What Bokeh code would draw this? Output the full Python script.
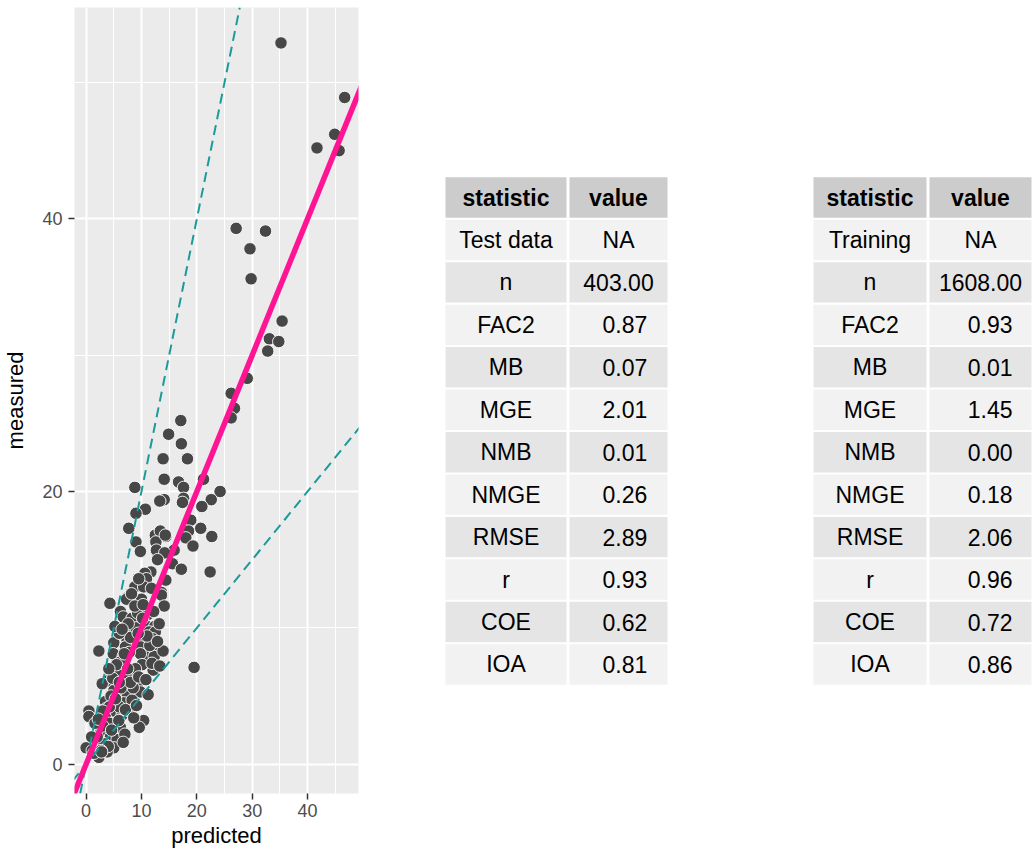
from bokeh.plotting import figure
from bokeh.layouts import row
from bokeh.models import Range1d, FixedTicker, Slope, ColumnDataSource
from bokeh.embed import file_html
from bokeh.resources import INLINE
from bokeh.core.properties import value

# ---------------- data ----------------
predicted = [35.2, 46.7, 44.9, 41.7, 45.7, 27.1, 32.4, 29.6, 29.8, 35.4,
             33.1, 34.8, 32.8, 29.1, 26.2, 26.8, 26.2, 17.1, 14.9, 17.2,
             13.9, 18.3, 14.1, 16.7, 21.2, 17.6, 8.8, 24.2, 14.1, 13.3,
             17.6, 17.4, 22.6, 10.7, 9.0, 20.9, 18.9, 7.7, 20.7, 18.5,
             12.5, 13.4, 14.4, 18.0, 22.7, 9.0, 12.6, 14.3, 19.3, 12.7,
             9.8, 15.9, 14.2, 12.9, 15.6, 17.2, 22.4, 11.7, 10.6, 10.9,
             14.4, 8.8, 10.4, 13.6, 13.6, 7.4, 4.3, 7.3, 14.1, 6.2,
             6.7, 8.3, 10.7, 12.4, 8.3, 11.4, 12.5, 7.4, 10.1, 12.0,
             5.0, 7.1, 9.8, 12.6, 2.3, 4.9, 10.5, 6.7, 9.8, 12.3,
             13.9, 19.5, 12.1, 10.1, 6.2, 8.6, 3.8, 2.9, 6.8, 9.2,
             5.0, 7.4, 9.8, 3.5, 6.8, 8.3, 0.5, 0.5, 5.0, 6.5,
             3.5, 10.4, 9.6, 6.2, 2.6, 4.4, 5.6, 3.2, 5.0, 0.0,
             1.1, 2.3, 1.4, 3.8, 8.0, 9.0, 7.8, 8.9, 7.2, 5.8,
             4.5, 6.0, 7.8, 4.2, 3.0, 4.8, 5.5, 7.6, 9.3, 10.0,
             11.2, 11.5, 6.0, 8.2, 9.5, 11.8, 2.0, 1.6, 3.7, 5.9,
             7.0, 4.0, 2.7, 8.5, 6.3, 4.1, 5.2, 6.5, 8.8, 10.2,
             11.0, 12.9, 13.2, 9.4, 7.5, 8.0, 9.5, 10.8, 11.2, 6.0,
             4.2, 5.3, 7.1, 8.6, 3.0, 2.2, 1.0, 2.8, 4.6, 6.7,
             9.1, 11.9, 13.3, 10.3, 12.2, 6.9]
measured = [52.9, 48.9, 46.2, 45.2, 45.0, 39.3, 39.1, 37.8, 35.6, 32.5,
            31.2, 31.0, 30.3, 28.3, 27.2, 26.1, 25.4, 25.2, 24.2, 23.5,
            22.4, 22.4, 20.9, 20.7, 20.9, 20.3, 20.3, 20.0, 19.4, 19.3,
            19.5, 19.2, 19.4, 18.7, 18.4, 18.9, 17.9, 17.3, 17.3, 17.1,
            16.8, 17.1, 16.7, 16.6, 16.7, 16.3, 16.3, 16.8, 16.0, 15.7,
            15.6, 15.7, 15.5, 15.0, 14.7, 14.3, 14.1, 14.1, 14.0, 13.6,
            13.5, 13.0, 13.0, 12.6, 12.4, 12.2, 11.8, 12.1, 11.6, 11.2,
            10.8, 10.7, 10.2, 10.1, 9.9, 9.7, 9.7, 9.1, 9.1, 9.2,
            8.9, 8.6, 8.6, 8.4, 8.3, 8.1, 8.0, 7.9, 8.1, 7.9,
            8.3, 7.1, 6.9, 7.3, 7.5, 6.7, 6.1, 5.9, 5.9, 5.8,
            5.4, 5.2, 5.3, 4.6, 4.5, 4.7, 3.9, 3.5, 3.9, 3.6,
            3.4, 3.2, 2.7, 2.7, 2.4, 2.0, 1.8, 1.5, 1.2, 1.2,
            1.0, 0.5, 0.8, 0.9, 9.3, 10.0, 8.2, 7.0, 6.5, 6.8,
            5.0, 4.2, 3.9, 3.0, 2.8, 6.3, 7.3, 10.3, 11.1, 12.1,
            11.0, 8.7, 9.6, 12.5, 13.6, 12.9, 2.0, 3.0, 4.1, 3.2,
            2.2, 1.3, 1.0, 5.6, 5.6, 7.0, 10.1, 9.9, 11.6, 10.7,
            9.4, 9.0, 10.3, 9.6, 7.0, 6.0, 6.4, 6.2, 5.1, 6.0,
            4.2, 4.8, 4.0, 3.4, 3.9, 3.3, 2.0, 0.9, 2.5, 1.6,
            4.3, 7.4, 7.2, 11.7, 11.2, 8.1]

x_ticks = [0, 10, 20, 30, 40]
x_minor = [5, 15, 25, 35, 45]
y_ticks = [0, 20, 40]
y_minor = [10, 30, 50]

header = ["statistic", "value"]
test_stats = ["Test data", "n", "FAC2", "MB", "MGE", "NMB", "NMGE", "RMSE", "r", "COE", "IOA"]
test_values = ["NA", "403.00", "0.87", "0.07", "2.01", "0.01", "0.26", "2.89", "0.93", "0.62", "0.81"]
train_stats = ["Training", "n", "FAC2", "MB", "MGE", "NMB", "NMGE", "RMSE", "r", "COE", "IOA"]
train_values = ["NA", "1608.00", "0.93", "0.01", "1.45", "0.00", "0.18", "2.06", "0.96", "0.72", "0.86"]

FONT = "Liberation Sans"

# ---------------- scatter ----------------
p = figure(width=365, height=851, output_backend="svg", toolbar_location=None,
           x_range=Range1d(-2.1, 49.2), y_range=Range1d(-2.15, 55.5),
           min_border_left=72, min_border_right=7, min_border_top=7, min_border_bottom=58)
p.background_fill_color = "#EBEBEB"
p.border_fill_color = "white"
p.outline_line_color = None

p.xaxis.ticker = FixedTicker(ticks=x_ticks, minor_ticks=x_minor)
p.yaxis.ticker = FixedTicker(ticks=y_ticks, minor_ticks=y_minor)
p.xgrid.ticker = FixedTicker(ticks=x_ticks, minor_ticks=x_minor)
p.ygrid.ticker = FixedTicker(ticks=y_ticks, minor_ticks=y_minor)
for g in (p.xgrid, p.ygrid):
    g.grid_line_color = "white"
    g.grid_line_width = 2
    g.minor_grid_line_color = "white"
    g.minor_grid_line_width = 1

for ax in (p.xaxis, p.yaxis):
    ax.axis_line_color = None
    ax.major_tick_line_color = "#333333"
    ax.major_tick_line_width = 1.5
    ax.major_tick_out = 6
    ax.major_tick_in = 0
    ax.minor_tick_line_color = None
    ax.major_label_text_color = "#4D4D4D"
    ax.major_label_text_font = FONT
    ax.major_label_text_font_size = "18px"
    ax.axis_label_text_font = FONT
    ax.axis_label_text_font_size = "22px"
    ax.axis_label_text_font_style = "normal"
    ax.axis_label_text_color = "black"

p.xaxis.axis_label = "predicted"
p.yaxis.axis_label = "measured"
p.xaxis.major_label_standoff = 4
p.xaxis.axis_label_standoff = 3
p.yaxis.major_label_standoff = 6
p.yaxis.axis_label_standoff = 11

src = ColumnDataSource(dict(x=predicted, y=measured))
p.scatter("x", "y", source=src, size=12.5, fill_color="#474747",
          line_color="white", line_width=0.9)

p.add_layout(Slope(gradient=2, y_intercept=0, line_color="#1C9A9A",
                   line_width=2, line_dash="10 6"))
p.add_layout(Slope(gradient=0.5, y_intercept=0, line_color="#1C9A9A",
                   line_width=2, line_dash="10 6"))
p.add_layout(Slope(gradient=1, y_intercept=0, line_color="#FF1493",
                   line_width=5.5))

# ---------------- tables ----------------
# the row layout aligns this frame with the scatter's frame (page y 7..793),
# so the y range is set so one unit equals one page pixel
t = figure(width=668, height=851, output_backend="svg", toolbar_location=None,
           x_range=Range1d(365, 1033), y_range=Range1d(793, 7),
           min_border_left=0, min_border_right=0, min_border_top=7, min_border_bottom=58)
t.axis.visible = False
t.grid.visible = False
t.outline_line_color = None
t.background_fill_color = "white"
t.border_fill_color = "white"

FS = 23
ROW0 = 197.0
PITCH = 42.45
CELL_H = 40.4


def draw_table(left, stat_w, val_w, stats, vals):
    gap = 3
    sx = left + stat_w / 2
    vx = left + stat_w + gap + val_w / 2
    n = len(stats) + 1
    ys = [ROW0 + i * PITCH for i in range(n)]
    fills = ["#CCCCCC"] + ["#F2F2F2" if i % 2 == 0 else "#E5E5E5" for i in range(len(stats))]
    cells = ColumnDataSource(dict(
        x=[sx] * n + [vx] * n,
        y=ys + ys,
        w=[stat_w] * n + [val_w] * n,
        c=fills + fills))
    t.rect("x", "y", width="w", height=CELL_H, fill_color="c", line_color=None, source=cells)
    # header
    t.text(x=[sx, vx], y=[ys[0], ys[0]], text=header, text_font=value(FONT),
           text_font_size=f"{FS}px", text_font_style="bold", text_align="center",
           text_baseline="middle", text_color="black")
    # statistic column
    t.text(x=[sx] * len(stats), y=ys[1:], text=stats, text_font=value(FONT),
           text_font_size=f"{FS}px", text_align="center", text_baseline="middle",
           text_color="black")
    # value column, emulating R's right-padded format centred in the cell
    width = max(len(v) for v in vals if v != "NA")
    space = 0.278 * FS
    vxs = [vx if v == "NA" else vx + (width - len(v)) * space / 2 for v in vals]
    t.text(x=vxs, y=ys[1:], text=vals, text_font=value(FONT),
           text_font_size=f"{FS}px", text_align="center", text_baseline="middle",
           text_color="black")


draw_table(445, 121, 98, test_stats, test_values)
draw_table(813, 113, 102, train_stats, train_values)

layout = row(p, t)
open("out.html", "w").write(file_html(layout, INLINE))
